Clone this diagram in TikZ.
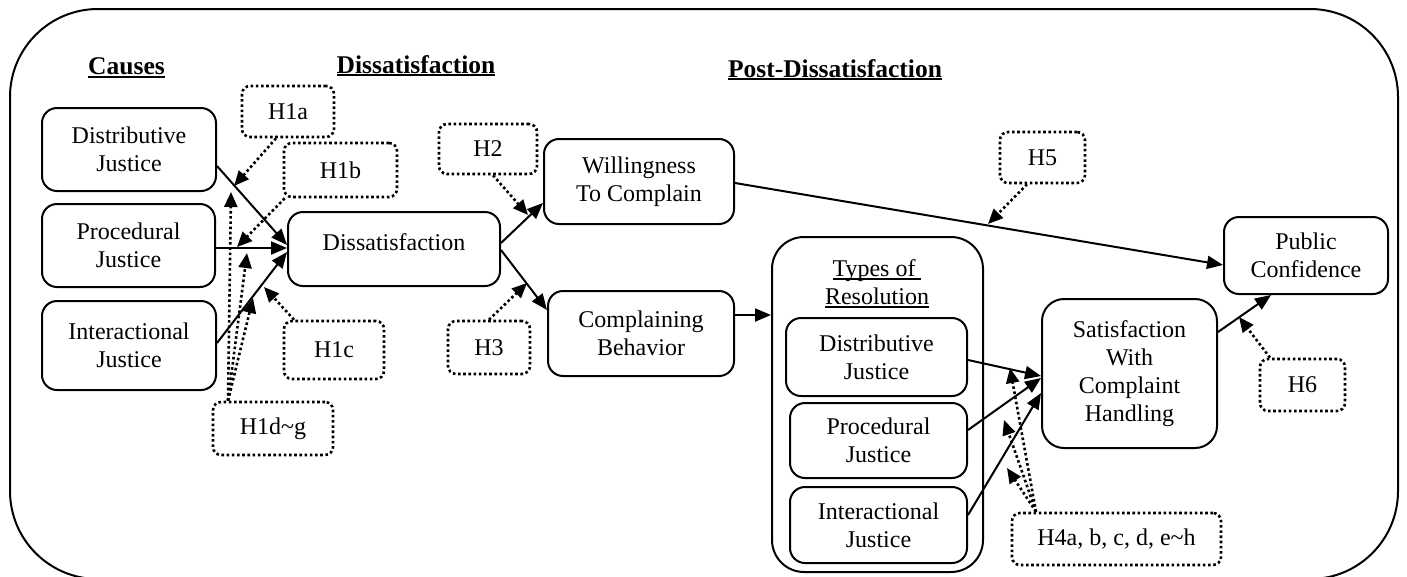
\documentclass[tikz,border=0pt]{standalone}
\usepackage{fontspec}
\setmainfont{Liberation Serif}
\usetikzlibrary{arrows.meta}
\newsavebox\ulbox
\newcommand\myul[1]{\sbox\ulbox{#1}\rlap{\rule[-3pt]{\wd\ulbox}{2.2pt}}\usebox\ulbox}
\tikzset{
 box/.style={draw, line width=2pt, rounded corners=15pt, align=center, inner sep=0pt},
 hyp/.style={draw, line width=2.6pt, dash pattern=on 2.6pt off 2.6pt, rounded corners=8pt, align=center, inner sep=0pt},
 arr/.style={line width=2pt, -{Triangle[length=16pt,width=13pt]}},
 darr/.style={line width=2.6pt, dash pattern=on 2.6pt off 2.6pt, -{Triangle[length=15pt,width=13pt]}},
 head/.style={font=\fontsize{25.5}{30}\selectfont\bfseries, inner sep=0pt},
}
\begin{document}
\begin{tikzpicture}[x=1pt, y=-1pt, font=\fontsize{24}{28}\selectfont]
\useasboundingbox (0,0) rectangle (1407,576);
\begin{scope}
\clip (0,0) rectangle (1407,576);
\draw[line width=2pt, rounded corners=88pt] (10,9) rectangle (1398,579);
\end{scope}

% headings
\node[head] (causes) at (126.5,68) {\myul{Causes}};
\node[head] (dissh) at (416,66) {\myul{Dissatisfaction}};
\node[head] (posth) at (835,70) {\myul{Post-Dissatisfaction}};

% main boxes
\node[box, minimum width=174pt, minimum height=83pt] (dj) at (129,149.5) {Distributive\\Justice};
\node[box, minimum width=173pt, minimum height=83pt] (pj) at (128.5,245.5) {Procedural\\Justice};
\node[box, minimum width=174pt, minimum height=89pt] (ij) at (129,345.5) {Interactional\\Justice};
\node[box, minimum width=212pt, minimum height=74pt, text depth=14pt] (diss) at (394,249) {Dissatisfaction};
\node[box, minimum width=190pt, minimum height=85pt] (will) at (639,181.5) {Willingness\\To Complain};
\node[box, minimum width=186pt, minimum height=85pt] (comp) at (641,333.5) {Complaining\\Behavior};
\node[box, rounded corners=32pt, minimum width=211pt, minimum height=335pt] (types) at (877.5,404.5) {};
\node[align=center, inner sep=0pt] (tlbl) at (877,284) {\myul{Types of\ }\\\myul{Resolution}};
\node[box, minimum width=181pt, minimum height=78pt] (rdj) at (876.5,357) {Distributive\\Justice};
\node[box, minimum width=177pt, minimum height=75pt] (rpj) at (878.5,440.5) {Procedural\\Justice};
\node[box, minimum width=177pt, minimum height=76pt] (rij) at (878.5,525) {Interactional\\Justice};
\node[box, rounded corners=22pt, minimum width=175pt, minimum height=149pt] (sat) at (1129.5,373.5) {Satisfaction\\With\\Complaint\\Handling};
\node[box, minimum width=164pt, minimum height=77pt] (pub) at (1306,255.5) {Public\\Confidence};

% hypothesis boxes
\node[hyp, minimum width=92pt, minimum height=51pt] (h1a) at (288,111.5) {H1a};
\node[hyp, minimum width=113pt, minimum height=54pt] (h1b) at (340.5,170) {H1b};
\node[hyp, minimum width=100pt, minimum height=58pt] (h1c) at (334,350) {H1c};
\node[hyp, minimum width=120pt, minimum height=53pt] (h1d) at (273,428.5) {H1d\textasciitilde g};
\node[hyp, minimum width=98pt, minimum height=50pt] (h2) at (488,149) {H2};
\node[hyp, minimum width=82pt, minimum height=53pt] (h3) at (489,347.5) {H3};
\node[hyp, minimum width=85pt, minimum height=51pt] (h5) at (1042.5,157.5) {H5};
\node[hyp, minimum width=85pt, minimum height=52pt] (h6) at (1302.5,385) {H6};
\node[hyp, minimum width=209pt, minimum height=52pt] (h4) at (1116.5,539) {H4a, b, c, d, e\textasciitilde h};

% solid connectors
\draw[arr] ([yshift=-16.5pt]dj.east) -- ([yshift=4pt]diss.west);
\draw[arr] ([yshift=-2.5pt]pj.east) -- ([yshift=1pt]diss.west);
\draw[arr] ([yshift=2.5pt]ij.east) -- ([yshift=-3pt]diss.west);
\draw[arr] ([yshift=6pt]diss.east) -- ([yshift=-21.5pt]will.west);
\draw[arr] ([yshift=-1pt]diss.east) -- ([yshift=23.5pt]comp.west);
\draw[arr] ([yshift=18.5pt]comp.east) -- ([yshift=18.5pt]comp.east -| types.west);
\draw[arr] ([yshift=-1.5pt]will.east) -- ([yshift=-9.5pt]pub.west);
\draw[arr] ([yshift=-3pt]rdj.east) -- ([yshift=-2.5pt]sat.west);
\draw[arr] ([yshift=10.5pt]rpj.east) -- ([yshift=-4.5pt]sat.west);
\draw[arr] ([yshift=10pt]rij.east) -- ([yshift=-19.5pt]sat.west);
\draw[arr] ([yshift=41.5pt]sat.east) -- ([xshift=-35pt]pub.south);

% free ends of hypothesis arrows
\coordinate (p1a) at (234,186);
\coordinate (p1b) at (237,247);
\coordinate (p1c) at (264,287);
\coordinate (p1d1) at (231,192);
\coordinate (p1d2) at (247,253);
\coordinate (p1d3) at (253,298);
\coordinate (p2) at (528,215);
\coordinate (p3) at (527,283);
\coordinate (p5) at (988,224);
\coordinate (p6) at (1239,317);
\coordinate (p4a) at (1010,368);
\coordinate (p4b) at (1004,420);
\coordinate (p4c) at (1007,468);

% dotted connectors
\draw[darr] ([xshift=-12pt]h1a.south) -- (p1a);
\draw[darr] ([xshift=2pt]h1b.south west) -- (p1b);
\draw[darr] ([xshift=-40pt]h1c.north) -- (p1c);
\draw[darr] ([xshift=-45pt]h1d.north) -- (p1d1);
\draw[darr] ([xshift=-45pt]h1d.north) -- (p1d2);
\draw[darr] ([xshift=-45pt]h1d.north) -- (p1d3);
\draw[darr] ([xshift=5pt]h2.south) -- (p2);
\draw[darr] (h3.north) -- (p3);
\draw[darr] ([xshift=-15.5pt]h5.south) -- (p5);
\draw[darr] ([xshift=-32.5pt]h6.north) -- (p6);
\draw[darr] ([xshift=-80.5pt]h4.north) -- (p4a);
\draw[darr] ([xshift=-80.5pt]h4.north) -- (p4b);
\draw[darr] ([xshift=-80.5pt]h4.north) -- (p4c);
\end{tikzpicture}
\end{document}
